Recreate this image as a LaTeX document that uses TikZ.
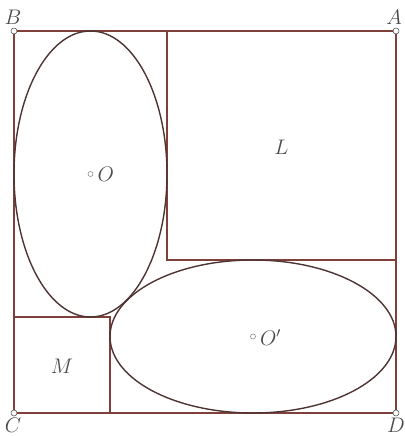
\documentclass[tikz,border=0pt]{standalone}
\usepackage{xcolor}
\usepackage{tikz}
\usetikzlibrary{calc}
\definecolor{edgebrown}{RGB}{128,64,58}
\definecolor{curvebrown}{RGB}{78,52,50}
\definecolor{labelgray}{RGB}{75,75,75}

\begin{document}
\begin{tikzpicture}[
    edge/.style={draw=edgebrown,line width=0.8pt},
    curve/.style={draw=curvebrown,line width=0.8pt},
    lbl/.style={text=labelgray,inner sep=1pt},
    corner/.style={circle,draw=labelgray,fill=white,line width=0.3pt,inner sep=0pt,minimum size=1.2mm},
    centre/.style={circle,draw=labelgray!70,fill=white,line width=0.3pt,inner sep=0pt,minimum size=1mm}]
  \useasboundingbox (-0.28,-0.46) rectangle (7.80,8.26);
  \coordinate (C) at (0,0);
  \coordinate (D) at (7.64,0);
  \coordinate (A) at (7.64,7.64);
  \coordinate (B) at (0,7.64);
  \coordinate (O) at (1.53,4.78);
  \coordinate (Op) at (4.78,1.53);
  % squares
  \draw[edge] (C) rectangle (A);
  \draw[edge] (3.06,3.06) rectangle (A);
  \draw[edge] (C) rectangle (1.92,1.92);
  % ellipses
  \draw[curve] (O) ellipse [x radius=1.53,y radius=2.86];
  \draw[curve] (Op) ellipse [x radius=2.86,y radius=1.53];
  % labels
  \node[corner] (cB) at (B) {};
  \node[corner] (cA) at (A) {};
  \node[corner] (cC) at (C) {};
  \node[corner] (cD) at (D) {};
  \node[lbl,anchor=south] (lB) at ($(B)+(-0.02,0.08)$) {\large $B$};
  \node[lbl,anchor=south] (lA) at ($(A)+(-0.04,0.08)$) {\large $A$};
  \node[lbl,anchor=north] (lC) at ($(C)+(-0.02,-0.06)$) {\large $C$};
  \node[lbl,anchor=north] (lD) at ($(D)+(0,-0.06)$) {\large $D$};
  \node[centre] (dO) at (O) {};
  \node[lbl,anchor=west] (lO) at ($(O)+(0.1,0)$) {\large $O$};
  \node[centre] (dOp) at (Op) {};
  \node[lbl,anchor=west] (lOp) at ($(Op)+(0.1,-0.02)$) {\large $O'$};
  \node[lbl] (lL) at (5.35,5.32) {\large $L$};
  \node[lbl] (lM) at (0.96,0.94) {\large $M$};
\end{tikzpicture}
\end{document}
